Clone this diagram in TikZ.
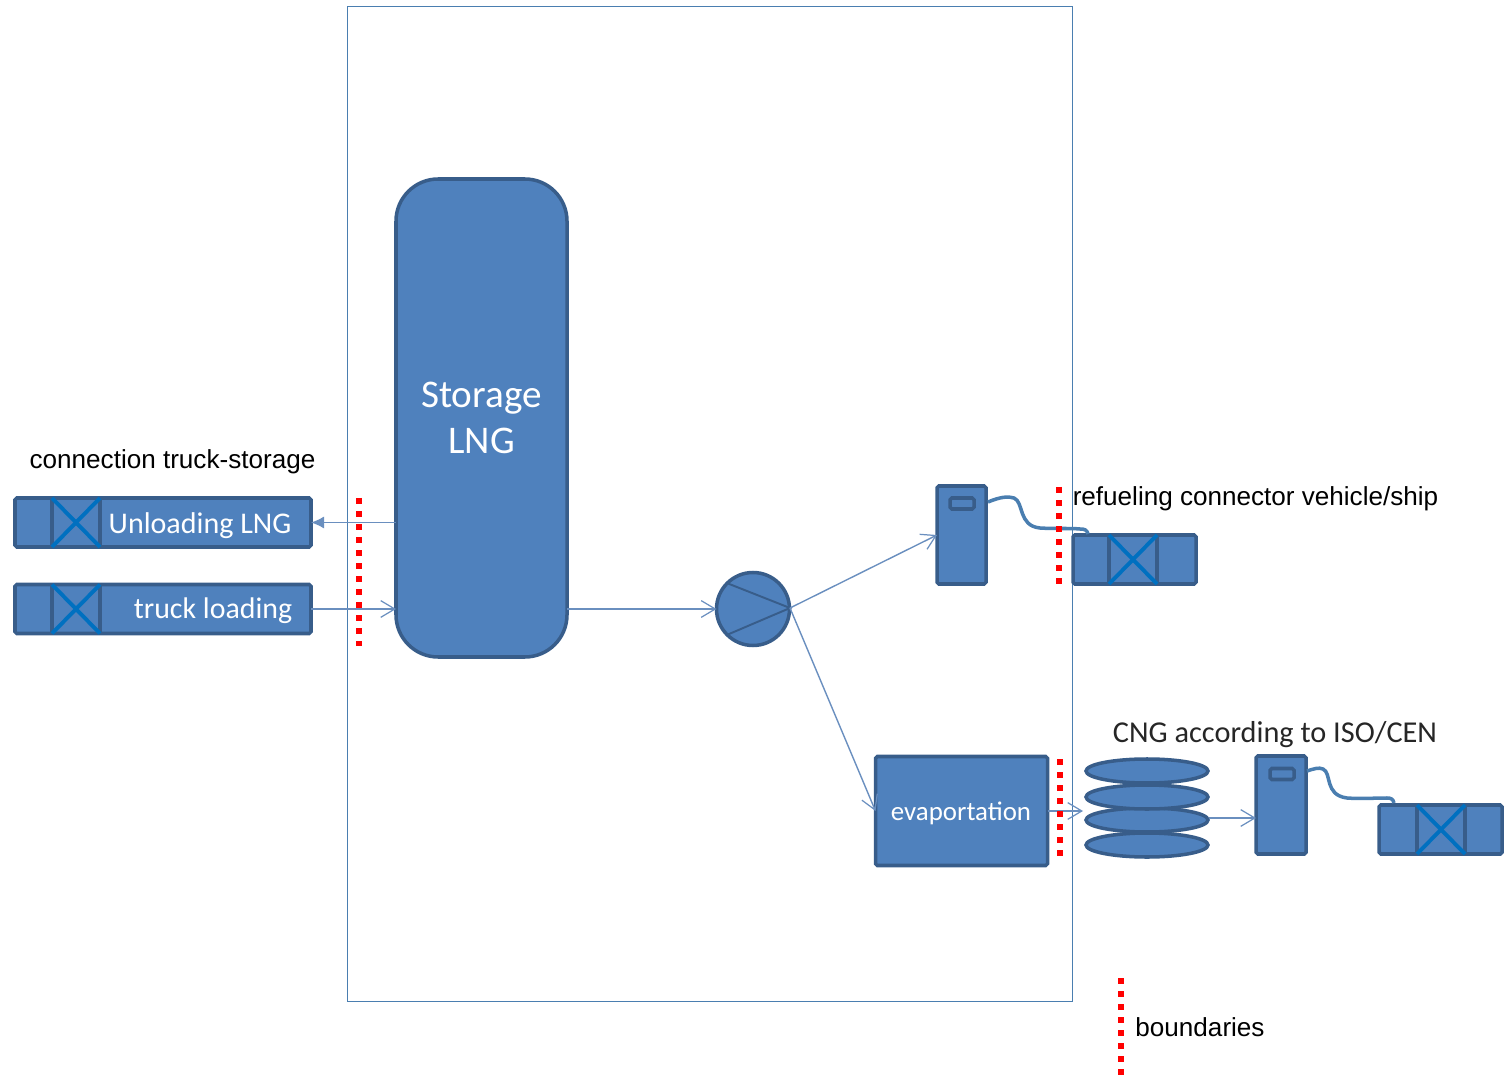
\documentclass[tikz,border=0pt]{standalone}
\usepackage{fontspec}
\setmainfont{Carlito}
\newfontfamily\labelfont{Liberation Sans}
\usetikzlibrary{arrows.meta}
\definecolor{unitfill}{HTML}{4F81BD}
\definecolor{unitline}{HTML}{385D8A}
\definecolor{crossline}{HTML}{0070C0}
\definecolor{pipeline}{HTML}{6A8FBF}
\definecolor{siteline}{HTML}{4A7EB0}
\newcommand{\fsize}[1]{\fontsize{#1}{26}\selectfont}
\def\u{0.02cm}
\tikzset{
  unit/.style={draw=unitline, fill=unitfill, line width=2pt, rounded corners=1pt, outer sep=0pt, inner sep=0pt, text=white},
  crossbox/.style={draw=unitline, line width=2pt, outer sep=0pt, inner sep=0pt, minimum width=48*\u, minimum height=#1*\u},
  pipe/.style={draw=pipeline, line width=0.8pt, -{Straight Barb[length=8pt,width=9.5pt,line width=0.7pt]}},
  hose/.style={draw=siteline, line width=2pt},
  boundary/.style={draw=red, line width=3.4pt, dash pattern=on 3.4pt off 4pt},
  blacktext/.style={text=black, inner sep=0pt, font=\labelfont\fsize{14.85}},
}
\begin{document}
\begin{tikzpicture}[x=\u, y=-\u]
\useasboundingbox (0,0) rectangle (1504,1077);
% site
\node[draw=siteline, line width=0.5pt, minimum width=725*\u, minimum height=995*\u, inner sep=0pt] (site) at (709.5,503.5) {};
% storage and pump
\node[unit, rounded corners=24pt, minimum width=171*\u, minimum height=478*\u, align=center, font=\fsize{22.3}] (storage) at (481.5,418) {Storage\\LNG};
\node[unit, circle, minimum size=73*\u] (pump) at (753,609) {};
\coordinate (tip) at (790,608);
\draw[draw=unitline, line width=1.1pt] (pump.135) -- (tip) -- (pump.225);
% truck side
\node[unit, minimum width=296*\u, minimum height=49*\u] (unload) at (163,522.5) {};
\node[unit, minimum width=296*\u, minimum height=49*\u] (load) at (163,609) {};
\node[crossbox=49] (unloadx) at (76,522.5) {};
\node[crossbox=49] (loadx) at (76,609) {};
\node[text=white, inner sep=0pt, font=\fsize{17.1}] (unloadtxt) at (200,526) {Unloading LNG};
\node[text=white, inner sep=0pt, font=\fsize{17}] (loadtxt) at (213,611) {truck loading};
% dispensers
\node[unit, minimum width=49*\u, minimum height=98*\u] (disp1) at (961.5,535) {};
\node[unit, minimum width=24*\u, minimum height=11*\u] (screen1) at (962,503.5) {};
\node[unit, minimum width=123*\u, minimum height=49*\u] (ship) at (1134.5,559.5) {};
\node[crossbox=49] (shipx) at (1133,559.5) {};
\node[unit, minimum width=50*\u, minimum height=98*\u] (disp2) at (1281,805) {};
\node[unit, minimum width=24*\u, minimum height=11*\u] (screen2) at (1282,774) {};
\node[unit, minimum width=123*\u, minimum height=49*\u] (cng) at (1440.5,829.5) {};
\node[crossbox=49] (cngx) at (1441,829.5) {};
\foreach \n in {unloadx,loadx,shipx,cngx}{
  \draw[crossline, line width=2.2pt] (\n.north west) -- (\n.south east);
  \draw[crossline, line width=2.2pt] (\n.north east) -- (\n.south west);
}
% evaporation and buffer
\node[unit, minimum width=172*\u, minimum height=109*\u] (evap) at (961.5,811) {};
\node[text=white, inner sep=0pt, font=\fsize{15.3}] (evaptxt) at (961,813) {evaportation};
\foreach \y in {845,820,797,771}
  \draw[unit] (1147,\y) ellipse (61 and 12);
% pipes
\draw[draw=pipeline, line width=0.8pt, -{Latex[length=7.5pt,width=7pt]}] (storage.west |- unload.east) -- (unload.east);
\draw[pipe] (load.east) -- (storage.west |- load.east);
\draw[pipe] (storage.east |- pump.west) -- (pump.west);
\draw[pipe] (tip) -- (disp1.west);
\draw[pipe] (tip) -- (evap.west);
\coordinate (bufin) at (1083,811);
\draw[pipe] (evap.east) -- (bufin);
\coordinate (bufout) at (1209,818);
\draw[pipe] (bufout) -- (disp2.west |- bufout);
% hoses
\coordinate (nozzle1) at (1088,534);
\coordinate (nozzle2) at (1394,803);
\draw[hose] (988,502) .. controls (1000,497) and (1008,496) .. (1014,498) .. controls (1024,502) and (1018,526) .. (1040,528) .. controls (1055,529) and (1070,528) .. (1080,529) .. controls (1085,529) and (1087,530) .. (nozzle1);
\draw[hose] (1307,771) .. controls (1313,769) and (1319,767) .. (1323,769) .. controls (1332,773) and (1324,795) .. (1347,798) .. controls (1360,799) and (1375,798) .. (1387,798) .. controls (1391,798) and (1393,799) .. (nozzle2);
% boundaries
\coordinate (b1a) at (359,498); \coordinate (b1b) at (359,646);
\coordinate (b2a) at (1059,487); \coordinate (b2b) at (1059,586);
\coordinate (b3a) at (1060,759); \coordinate (b3b) at (1060,858);
\coordinate (b4a) at (1121,978); \coordinate (b4b) at (1121,1077);
\foreach \n in {b1,b2,b3,b4}
  \draw[boundary] (\n a) -- (\n b);
% labels
\node[blacktext] (lbltruck) at (172.5,462) {connection truck-storage};
\node[blacktext] (lblship) at (1255.5,499) {refueling connector vehicle/ship};
\node[blacktext] (lblbound) at (1200,1027) {boundaries};
\node[inner sep=0pt, text=black!85, font=\fsize{17.25}] (lblcng) at (1275,735) {CNG according to ISO/CEN};
\end{tikzpicture}
\end{document}
